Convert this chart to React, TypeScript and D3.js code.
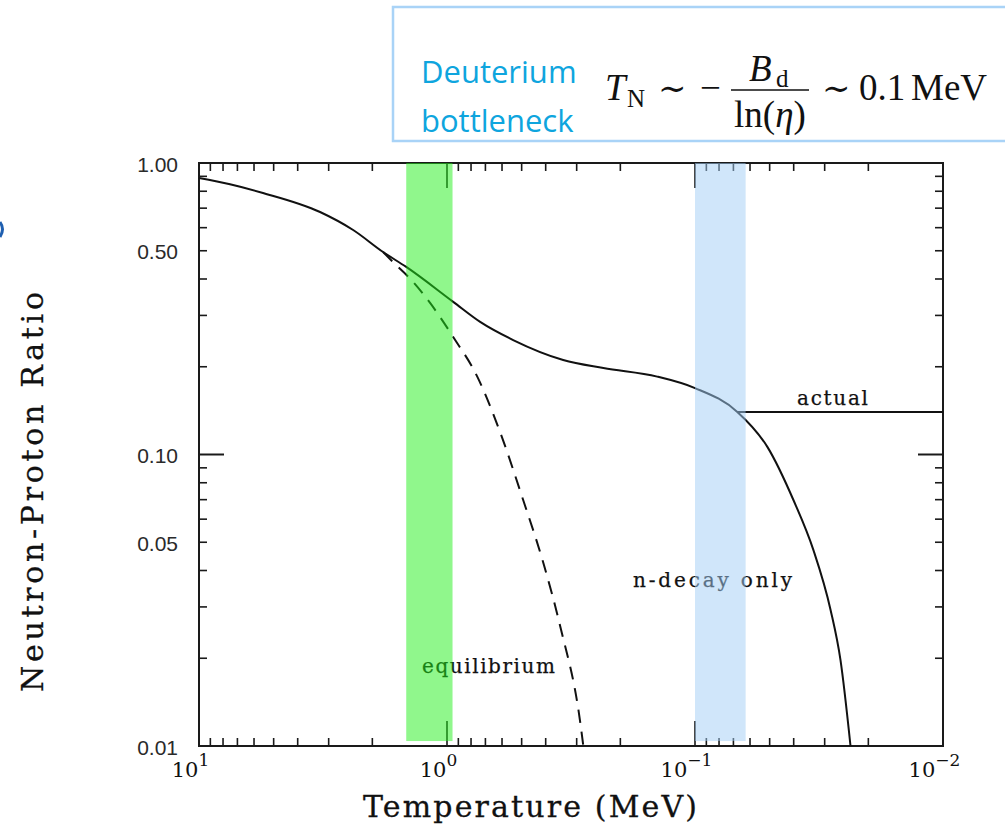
import React from "react";
import * as d3 from "d3";

// Neutron-to-proton ratio versus temperature (MeV).
const actualTemp = [10, 7.5, 5.52, 3.25, 2.39, 1.81, 1.46, 0.944, 0.735, 0.541, 0.34, 0.234, 0.142, 0.1, 0.0675, 0.051, 0.0401, 0.0333, 0.0284, 0.0259, 0.0236];
const actualRatio = [0.888, 0.845, 0.789, 0.679, 0.589, 0.495, 0.44, 0.334, 0.285, 0.247, 0.211, 0.198, 0.185, 0.169, 0.14, 0.106, 0.0698, 0.047, 0.0293, 0.0197, 0.01];

// Equilibrium branch (dashed), splitting from the actual curve near 1.8 MeV.
const equilTemp = [1.81, 1.65, 1.37, 1.17, 0.944, 0.755, 0.61, 0.493, 0.409, 0.349, 0.29, 0.282];
const equilRatio = [0.495, 0.457, 0.391, 0.331, 0.253, 0.185, 0.119, 0.0698, 0.0425, 0.0256, 0.012, 0.01];

// Frozen-out ratio once deuterium survives.
const freezeTemp = [0.0675, 0.01];
const freezeRatio = [0.14, 0.14];

// Highlighted temperature windows.
const weakFreezeBand = [1.46, 0.95];
const bottleneckBand = [0.1, 0.0625];
const bandRatio = [1.0, 0.0104];

const yTickValues = [1, 0.5, 0.1, 0.05, 0.01];
const yTickLabels = ["1.00", "0.50", "0.10", "0.05", "0.01"];
const xTickExponents = [1, 0, -1, -2];
const yMajorTicks = [0.1];
const xMajorTicks = [1, 0.1];

const TYPE = "'DejaVu Serif', 'Liberation Serif', serif";
const SERIF = "'Liberation Serif', 'DejaVu Serif', serif";

export default function App() {
  const W = 1005;
  const H = 826;
  const x = d3.scaleLog().domain([10, 0.01]).range([199, 943]);
  const y = d3.scaleLog().domain([1, 0.01]).range([163, 746]);
  const [x0, x1] = x.range();
  const [y0, y1] = y.range();

  const line = d3
    .line<[number, number]>()
    .x((d) => x(d[0]))
    .y((d) => y(d[1]))
    .curve(d3.curveMonotoneX);

  const actualPath = line(actualTemp.map((t, i) => [t, actualRatio[i]]) as [number, number][]) || "";
  const equilPath = line(equilTemp.map((t, i) => [t, equilRatio[i]]) as [number, number][]) || "";
  const freezePath = line(freezeTemp.map((t, i) => [t, freezeRatio[i]]) as [number, number][]) || "";

  // minor ticks: 2..9 within each decade
  const xMinor: number[] = [];
  [10, 1, 0.1].forEach((dec) => {
    for (let k = 2; k <= 9; k++) xMinor.push((dec / 10) * k);
  });
  const yMinor: number[] = [];
  [1, 0.1].forEach((dec) => {
    for (let k = 2; k <= 9; k++) yMinor.push((dec / 10) * k);
  });

  const stroke = "#1a1a1a";
  const minorLen = 8;
  const majorLen = 25;

  return (
    <svg
      width={W}
      height={H}
      viewBox={`0 0 ${W} ${H}`}
      style={{ position: "absolute", left: 0, top: 0, background: "#fff" }}
    >
      <rect x={0} y={0} width={W} height={H} fill="#fff" />

      {/* formula box */}
      <rect x={393} y={7} width={640} height={134} fill="#fff" stroke="#a9d3f7" strokeWidth={2.5} />
      <text x={421} y={83} fontFamily="'Open Sans', Lato, sans-serif" fontSize={31} fill="#0ea5de">
        Deuterium
      </text>
      <text x={421} y={132} fontFamily="'Open Sans', Lato, sans-serif" fontSize={31} fill="#0ea5de">
        bottleneck
      </text>
      <g fontFamily={SERIF} fill="#111">
        <text x={605} y={100} fontSize={37} fontStyle="italic">T</text>
        <text x={627} y={107} fontSize={25}>N</text>
        <text x={658} y={100} fontSize={34}>∼</text>
        <text x={700} y={100} fontSize={37}>−</text>
        <line x1={731} x2={809} y1={90} y2={90} stroke="#111" strokeWidth={1.6} />
        <text x={749} y={81} fontSize={37} fontStyle="italic">B</text>
        <text x={776} y={87} fontSize={25}>d</text>
        <text x={770} y={127} fontSize={37} textAnchor="middle">
          ln(<tspan fontStyle="italic">η</tspan>)
        </text>
        <text x={822} y={100} fontSize={34}>∼</text>
        <text x={859} y={100} fontSize={37}>0.1</text>
        <text x={911} y={100} fontSize={37}>MeV</text>
      </g>

      {/* left-edge fragment */}
      <path d="M0,222 Q5,229 0,237" fill="none" stroke="#1f5fb0" strokeWidth={3} />

      {/* frame */}
      <rect x={x0} y={y0} width={x1 - x0} height={y1 - y0} fill="none" stroke={stroke} strokeWidth={2} />

      {/* x ticks, top and bottom, pointing inward */}
      {xMinor.map((t, i) => (
        <g key={`xm${i}`} stroke={stroke} strokeWidth={1.6}>
          <line x1={x(t)} x2={x(t)} y1={y0} y2={y0 + minorLen} />
          <line x1={x(t)} x2={x(t)} y1={y1} y2={y1 - minorLen} />
        </g>
      ))}
      {xMajorTicks.map((t, i) => (
        <g key={`xM${i}`} stroke={stroke} strokeWidth={1.6}>
          <line x1={x(t)} x2={x(t)} y1={y0} y2={y0 + majorLen} />
          <line x1={x(t)} x2={x(t)} y1={y1} y2={y1 - majorLen} />
        </g>
      ))}

      {/* y ticks, left and right, pointing inward */}
      {yMinor.map((r, i) => (
        <g key={`ym${i}`} stroke={stroke} strokeWidth={1.6}>
          <line x1={x0} x2={x0 + minorLen} y1={y(r)} y2={y(r)} />
          <line x1={x1} x2={x1 - minorLen} y1={y(r)} y2={y(r)} />
        </g>
      ))}
      {yMajorTicks.map((r, i) => (
        <g key={`yM${i}`} stroke={stroke} strokeWidth={2}>
          <line x1={x0} x2={x0 + majorLen} y1={y(r)} y2={y(r)} />
          <line x1={x1} x2={x1 - majorLen} y1={y(r)} y2={y(r)} />
        </g>
      ))}

      {/* y tick labels */}
      {yTickValues.map((r, i) => (
        <text
          key={`yl${i}`}
          x={178}
          y={y(r) + 8.5}
          textAnchor="end"
          fontFamily="'Liberation Sans', Arial, sans-serif"
          fontSize={21}
          fill="#2a2a2a"
        >
          {yTickLabels[i]}
        </text>
      ))}

      {/* x tick labels */}
      {xTickExponents.map((e, i) => (
        <text
          key={`xl${i}`}
          x={x(Math.pow(10, e)) - 8.5}
          y={777}
          textAnchor="middle"
          fontFamily={TYPE}
          fontSize={21}
          fill="#111"
        >
          10
          <tspan dy={-11} fontSize={17}>
            {e < 0 ? `−${-e}` : `${e}`}
          </tspan>
        </text>
      ))}

      {/* axis titles */}
      <text
        x={363}
        y={817}
        fontFamily={TYPE}
        fontSize={30}
        textLength={334}
        lengthAdjust="spacing"
        fill="#111"
        stroke="#111"
        strokeWidth={0.3}
      >
        Temperature (MeV)
      </text>
      <text
        transform="translate(43,692) rotate(-90)"
        fontFamily={TYPE}
        fontSize={30}
        textLength={400}
        lengthAdjust="spacing"
        fill="#111"
        stroke="#111"
        strokeWidth={0.3}
      >
        Neutron-Proton Ratio
      </text>

      {/* curves */}
      <path d={actualPath} fill="none" stroke="#111" strokeWidth={2} />
      <path d={freezePath} fill="none" stroke="#111" strokeWidth={2} />
      <path d={equilPath} fill="none" stroke="#111" strokeWidth={2} strokeDasharray="13,9" />

      {/* curve labels */}
      <g fontFamily={TYPE} fill="#111" stroke="#111" strokeWidth={0.25} fontSize={20}>
        <text x={797} y={405} textLength={71} lengthAdjust="spacing">actual</text>
        <text x={633} y={587} textLength={159} lengthAdjust="spacing">n-decay only</text>
        <text x={422} y={673} textLength={133} lengthAdjust="spacing">equilibrium</text>
      </g>

      {/* translucent highlight bands, laid over the plot */}
      <rect
        x={x(weakFreezeBand[0])}
        y={y(bandRatio[0])}
        width={x(weakFreezeBand[1]) - x(weakFreezeBand[0])}
        height={y(bandRatio[1]) - y(bandRatio[0])}
        fill="rgb(33,239,25)"
        fillOpacity={0.5}
      />
      <rect
        x={x(bottleneckBand[0])}
        y={y(bandRatio[0])}
        width={x(bottleneckBand[1]) - x(bottleneckBand[0])}
        height={y(bandRatio[1]) - y(bandRatio[0])}
        fill="rgb(161,205,245)"
        fillOpacity={0.5}
      />
    </svg>
  );
}
